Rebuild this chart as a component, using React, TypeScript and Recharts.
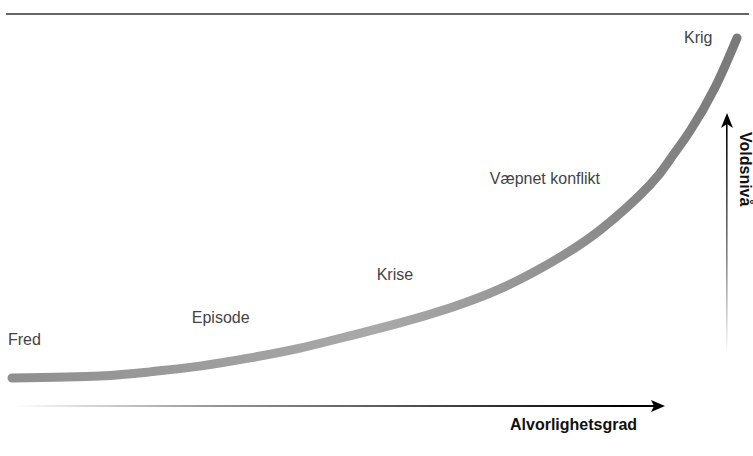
import { LineChart, Line, XAxis, YAxis, ReferenceDot } from "recharts";

// severity (0-100) vs violence level (0-100)
const severity = [0, 12.1, 19.0, 25.9, 32.8, 39.7, 46.6, 53.5, 60.4, 67.3, 74.2, 81.1, 88.0, 90.8, 93.5, 97.0, 100];
const violence = [0, 0.6, 1.8, 3.5, 5.9, 8.8, 12.4, 16.2, 20.6, 26.2, 33.8, 43.5, 56.8, 64.4, 72.6, 85.6, 100];

// stage labels, anchored at their left edge / baseline
const stageNames = ["Fred", "Episode", "Krise", "Væpnet konflikt", "Krig"];
const stageSeverity = [-0.55, 24.8, 50.3, 65.9, 92.7];
const stageViolence = [9.7, 16.2, 28.8, 57.1, 98.5];

const xTitle = "Alvorlighetsgrad";
const yTitle = "Voldsnivå";

const curve = severity.map((s, i) => ({ severity: s, level: violence[i] }));
const stages = stageNames.map((name, i) => ({ name, severity: stageSeverity[i], level: stageViolence[i] }));

const FONT = "'Liberation Sans', Arial, Helvetica, sans-serif";

function StageText({ cx, cy, name }: { cx?: number; cy?: number; name: string }) {
  return (
    <text x={cx} y={cy} fontFamily={FONT} fontSize={16} fill="#444">
      {name}
    </text>
  );
}

export default function App() {
  return (
    <div style={{ position: "absolute", left: 0, top: 0, width: 753, height: 456, background: "#fff" }}>
      <LineChart width={753} height={456} data={curve} margin={{ top: 38, right: 16, bottom: 78, left: 12 }}>
        <defs>
          <linearGradient id="curveGrad" x1="0" y1="0" x2="1" y2="0">
            <stop offset="0%" stopColor="#8f8f8f" />
            <stop offset="50%" stopColor="#a9a9a9" />
            <stop offset="100%" stopColor="#7a7a7a" />
          </linearGradient>
          <linearGradient id="xArrowGrad" x1="0" y1="0" x2="1" y2="0">
            <stop offset="0%" stopColor="#ffffff" />
            <stop offset="30%" stopColor="#9a9a9a" />
            <stop offset="60%" stopColor="#555" />
            <stop offset="95%" stopColor="#000" />
          </linearGradient>
          <linearGradient id="yArrowGrad" x1="0" y1="1" x2="0" y2="0">
            <stop offset="0%" stopColor="#ffffff" />
            <stop offset="40%" stopColor="#888" />
            <stop offset="100%" stopColor="#000" />
          </linearGradient>
        </defs>
        <XAxis type="number" dataKey="severity" domain={[0, 100]} hide />
        <YAxis type="number" domain={[0, 100]} hide />

        {/* top rule */}
        <line x1={6} x2={749} y1={14} y2={14} stroke="#333" strokeWidth={1.3} />

        {/* horizontal axis arrow */}
        <rect x={12} y={405} width={644} height={2} fill="url(#xArrowGrad)" />
        <polygon points="665,406 651,400 654,406 651,412" fill="#000" />
        <text x={510} y={430} fontFamily={FONT} fontSize={16} fontWeight="bold" fill="#111">
          {xTitle}
        </text>

        {/* vertical axis arrow */}
        <rect x={726} y={122} width={1.6} height={232} fill="url(#yArrowGrad)" />
        <polygon points="727,113 721,128 727,124 733,128" fill="#000" />
        <text x={740} y={132} transform="rotate(90 740 132)" fontFamily={FONT} fontSize={16} fontWeight="bold" fill="#111">
          {yTitle}
        </text>

        <Line
          type="natural"
          dataKey="level"
          stroke="url(#curveGrad)"
          strokeWidth={9}
          strokeLinecap="round"
          dot={false}
          activeDot={false}
          isAnimationActive={false}
        />

        {stages.map((st) => (
          <ReferenceDot
            key={st.name}
            x={st.severity}
            y={st.level}
            r={0}
            ifOverflow="visible"
            shape={(p: { cx?: number; cy?: number }) => <StageText cx={p.cx} cy={p.cy} name={st.name} />}
          />
        ))}
      </LineChart>
    </div>
  );
}
